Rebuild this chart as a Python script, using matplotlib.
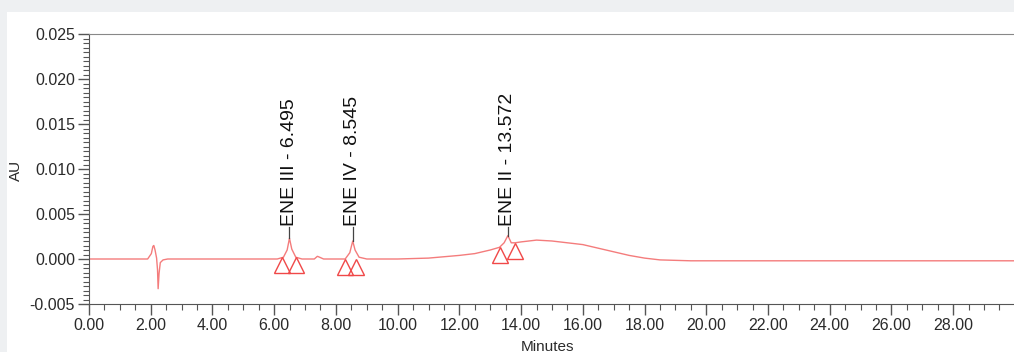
import matplotlib.pyplot as plt
from matplotlib.patches import Rectangle
from matplotlib.ticker import MultipleLocator, FormatStrFormatter

# chromatogram trace (minutes, AU)
time = [0.0, 1.90, 2.02, 2.07, 2.10, 2.14, 2.19, 2.22, 2.24, 2.27, 2.31, 2.40, 2.55,
        6.10, 6.30, 6.42, 6.495, 6.57, 6.70, 6.90, 7.30, 7.40, 7.47, 7.60,
        8.30, 8.45, 8.545, 8.62, 8.75, 9.00, 10.00, 11.00, 12.00, 12.50, 13.00,
        13.30, 13.45, 13.572, 13.68, 13.80, 14.00, 14.50, 15.00, 15.50, 16.00,
        16.50, 17.00, 17.50, 18.00, 18.50, 19.50, 22.00, 26.00, 30.00]
absorb = [0.0, 0.0, 0.0006, 0.0014, 0.0015, 0.0010, 0.0001, -0.0012, -0.0033, -0.0016,
          -0.0004, -0.0001, 0.0,
          0.0, 0.0002, 0.0010, 0.0023, 0.0011, 0.0002, 0.0, 0.0, 0.0003, 0.0002, 0.0,
          0.0, 0.0007, 0.0020, 0.0010, 0.0002, 0.0, 0.0, 0.0001, 0.0004, 0.0006, 0.0010,
          0.0013, 0.0018, 0.0026, 0.0018, 0.0018, 0.0019, 0.0021, 0.0020, 0.0018, 0.0016,
          0.0012, 0.0008, 0.0004, 0.0001, -0.0001, -0.0002, -0.0002, -0.0002, -0.0002]

# integration markers (peak start / end)
mark_t = [6.25, 6.71, 8.28, 8.65, 13.32, 13.80]
mark_v = [-0.0007, -0.0007, -0.0009, -0.0009, 0.0005, 0.0009]

# peak labels
peak_t = [6.495, 8.545, 13.572]
peak_h = [0.0023, 0.0020, 0.0026]
peak_names = ['ENE III - 6.495', 'ENE IV - 8.545', 'ENE II - 13.572']

fig = plt.figure(figsize=(10.14, 3.52), dpi=100, facecolor='#eef0f2')
fig.patches.append(Rectangle((7 / 1014, 0), 1, 1 - 12 / 352, transform=fig.transFigure,
                             facecolor='white', edgecolor='none', zorder=-5))

ax = fig.add_axes([89 / 1014, 1 - 304 / 352, 1 - 89 / 1014, 270 / 352])
ax.set_zorder(2)
ax.set_facecolor('white')

ax.plot(time, absorb, color='#f47c7c', lw=1.0)
ax.plot(mark_t, mark_v, ls='none', marker='^', markersize=11, markerfacecolor='none',
        markeredgecolor='#f04848', markeredgewidth=1.0)

for t, h, name in zip(peak_t, peak_h, peak_names):
    ax.plot([t, t], [h, 0.0036], color='#444444', lw=0.9)
    ax.text(t, 0.0037, name, rotation=90, ha='center', va='bottom', fontsize=14,
            family='Liberation Sans', color='#111111')

ax.set_xlim(0, 29.97)
ax.set_ylim(-0.005, 0.025)
ax.xaxis.set_major_locator(MultipleLocator(2))
ax.xaxis.set_minor_locator(MultipleLocator(0.5))
ax.yaxis.set_major_locator(MultipleLocator(0.005))
ax.yaxis.set_minor_locator(MultipleLocator(0.0005))
ax.xaxis.set_major_formatter(FormatStrFormatter('%.2f'))
ax.yaxis.set_major_formatter(FormatStrFormatter('%.3f'))

for s in ['left', 'bottom']:
    ax.spines[s].set_color('#555555')
ax.spines['top'].set_color('#888888')
ax.spines['right'].set_visible(False)

ax.tick_params(which='major', length=8, width=1, color='#555555', labelsize=11.5,
               labelcolor='#2a2a2a', pad=2)
ax.tick_params(which='minor', length=4, width=0.8, color='#555555')
for lbl in ax.get_xticklabels() + ax.get_yticklabels():
    lbl.set_family('Liberation Sans')

fig.text(16 / 1014, 1 - 170 / 352, 'AU', rotation=90, ha='center', va='center', fontsize=11,
         family='Liberation Sans', color='#2a2a2a')
fig.text(547 / 1014, -0.005, 'Minutes', ha='center', va='bottom', fontsize=11,
         family='Liberation Sans', color='#2a2a2a')

fig.savefig('out.png', dpi=100)
